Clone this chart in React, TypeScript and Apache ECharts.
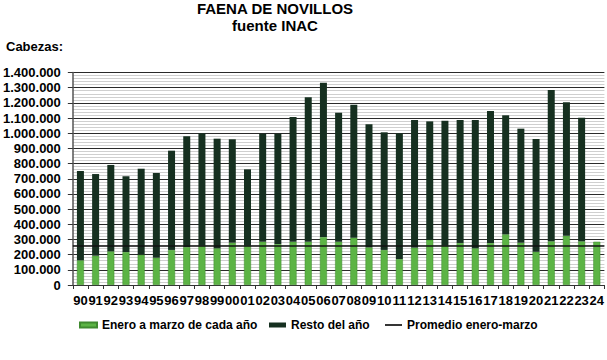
import React, { useEffect, useRef } from "react";
import * as echarts from "echarts";

const categories = ["90","91","92","93","94","95","96","97","98","99","00","01","02","03","04","05","06","07","08","09","10","11","12","13","14","15","16","17","18","19","20","21","22","23","24"];
const eneroMarzo = [163000,193000,222000,217000,200000,180000,231000,250000,259000,242000,279000,259000,285000,270000,285000,285000,316000,285000,312000,248000,231000,171000,246000,298000,259000,277000,242000,277000,334000,279000,219000,288000,325000,288000,285000];
const restoAnio = [588000,538000,569000,499000,566000,558000,654000,730000,740000,722000,681000,503000,712000,727000,822000,952000,1017000,850000,876000,811000,775000,828000,841000,780000,823000,810000,845000,869000,784000,751000,743000,997000,879000,814000,0];
const promedio = 260000;
const yTicks = [0, 1400000, 100000];

const FONT = "'Liberation Sans', Arial, sans-serif";

function fmt(v: number): string {
  return String(v).replace(/\B(?=(\d{3})+(?!\d))/g, ".");
}

export default function App() {
  const ref = useRef<HTMLDivElement>(null);
  useEffect(() => {
    if (!ref.current) return;
    const chart = echarts.init(ref.current, null, { renderer: "svg" });
    const legendText = { fontFamily: FONT, fontSize: 12, fontWeight: "bold", color: "#000" };
    chart.setOption({
      animation: false,
      backgroundColor: "#ffffff",
      textStyle: { fontFamily: FONT },
      title: [
        {
          text: "FAENA DE NOVILLOS\nfuente INAC",
          left: 275,
          textAlign: "center",
          top: 0,
          padding: 0,
          textStyle: { fontFamily: FONT, fontSize: 15, fontWeight: "bold", color: "#000", lineHeight: 17 },
        },
        {
          text: "Cabezas:",
          left: 6,
          top: 40,
          padding: 0,
          textStyle: { fontFamily: FONT, fontSize: 13, fontWeight: "bold", color: "#000" },
        },
      ],
      legend: [
        {
          left: 79, top: 319, padding: 0, itemWidth: 17, itemHeight: 5,
          textStyle: legendText,
          data: [{ name: "Enero a marzo de cada año", icon: "rect" }],
        },
        {
          left: 269, top: 319, padding: 0, itemWidth: 17, itemHeight: 5,
          textStyle: legendText,
          data: [{ name: "Resto del año", icon: "rect" }],
        },
        {
          left: 385, top: 319, padding: 0, itemWidth: 17, itemHeight: 5,
          textStyle: legendText,
          data: [{ name: "Promedio enero-marzo", icon: "path://M0,0H20V2H0Z" }],
        },
      ],
      grid: { left: 72, right: 1, top: 72.5, bottom: 75, containLabel: false },
      xAxis: {
        type: "category",
        data: categories,
        axisLine: { lineStyle: { color: "#333", width: 1 } },
        axisTick: { show: true, length: 4, lineStyle: { color: "#333" } },
        axisLabel: { fontFamily: FONT, fontSize: 13, fontWeight: "bold", color: "#000", margin: 9, interval: 0 },
      },
      yAxis: {
        type: "value",
        min: yTicks[0],
        max: yTicks[1],
        interval: yTicks[2],
        axisLine: { show: true, lineStyle: { color: "#555", width: 1.5 } },
        axisTick: { show: true, length: 5, lineStyle: { color: "#333" } },
        axisLabel: { fontFamily: FONT, fontSize: 13, fontWeight: "bold", color: "#000", margin: 12, formatter: (v: number) => fmt(v) },
        splitLine: { show: true, lineStyle: { color: "#2a2a2a", width: 1 } },
        minorTick: { show: false, splitNumber: 5 },
        minorSplitLine: { show: true, lineStyle: { color: "#cfcfcf", width: 1 } },
      },
      series: [
        {
          name: "Enero a marzo de cada año",
          type: "bar",
          stack: "total",
          data: eneroMarzo,
          barWidth: 7,
          itemStyle: { color: "#5cb445", borderColor: "#3f8a2f", borderWidth: 0.5 },
        },
        {
          name: "Resto del año",
          type: "bar",
          stack: "total",
          data: restoAnio,
          barWidth: 7,
          itemStyle: { color: "#163020" },
          markLine: {
            silent: true,
            symbol: "none",
            label: { show: false },
            lineStyle: { color: "#111", width: 1.5, type: "solid" },
            data: [{ yAxis: promedio }],
          },
        },
        {
          name: "Promedio enero-marzo",
          type: "line",
          data: [],
          symbol: "none",
          lineStyle: { color: "#111", width: 2 },
          itemStyle: { color: "#111" },
        },
      ],
    });
    return () => chart.dispose();
  }, []);
  return <div ref={ref} style={{ width: 607, height: 360, position: "absolute", left: 0, top: 0 }} />;
}
